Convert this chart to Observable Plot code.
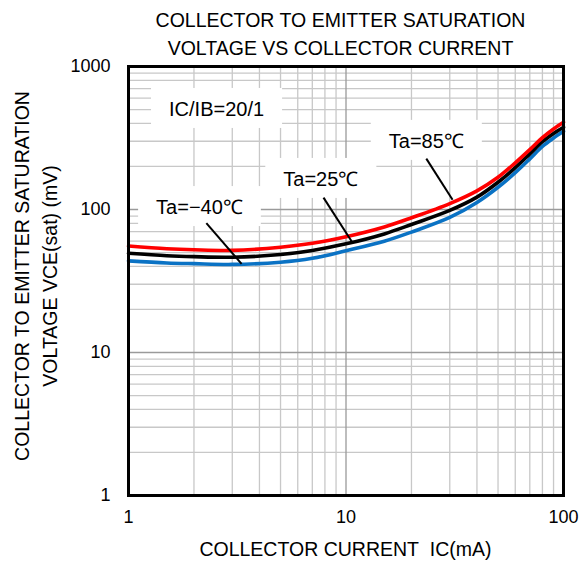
<!DOCTYPE html>
<html><head><meta charset="utf-8">
<script src="https://cdn.jsdelivr.net/npm/d3@7"></script>
<script src="https://cdn.jsdelivr.net/npm/@observablehq/plot@0.6"></script>
<style>body{margin:0;background:#fff} svg{display:block}</style>
</head><body><div id="chart"></div>
<script>
// Collector current IC (mA)
const current = [1, 1.5, 2, 3, 5, 7, 10, 15, 20, 30, 40, 50, 60, 70, 80, 90, 100];
// VCE(sat) (mV) per ambient temperature
const vce85  = [55.5, 53.2, 52.3, 51.8, 54.5, 58.0, 64.5, 75.5, 87.5, 110, 135, 168, 212, 262, 318, 366, 408];
const vce25  = [49.4, 47.5, 46.8, 46.4, 48.4, 51.7, 57.5, 67.5, 78.5, 98.5, 122, 155, 196, 245, 298, 340, 376];
const vceM40 = [43.7, 42.3, 41.8, 41.3, 42.8, 45.6, 51.5, 60.0, 69.5, 88.0, 112, 143, 181, 226, 276, 316, 352];

const xTicks = [1, 10, 100];
const yTicks = [1, 10, 100, 1000];
const xMinor = [2, 3, 4, 5, 6, 7, 8, 9, 20, 30, 40, 50, 60, 70, 80, 90];
const xDecade = [10];
const yMinor = [2, 3, 4, 5, 6, 7, 8, 9, 20, 30, 40, 50, 60, 70, 80, 90, 200, 300, 400, 500, 600, 700, 800, 900];
const yDecade = [10, 100];

const annotations = [
  {text: "IC/IB=20/1", x: 2.54, y: 500},
  {text: "Ta=85℃", x: 23.4, y: 299},
  {text: "Ta=25℃", x: 7.66, y: 162},
  {text: "Ta=−40℃", x: 2.12, y: 103}
];
const leaders = [
  {x1: 23.4, y1: 227, x2: 30.9, y2: 117},
  {x1: 7.88, y1: 121, x2: 10.7, y2: 58.8},
  {x1: 2.28, y1: 80.2, x2: 3.31, y2: 41.7}
];

const titleText = "COLLECTOR TO EMITTER SATURATION\nVOLTAGE VS COLLECTOR CURRENT";
const xLabel = "COLLECTOR CURRENT\u00a0 IC(mA)";
const yLabel = "COLLECTOR TO EMITTER SATURATION\nVOLTAGE VCE(sat) (mV)";

const toRows = vals => current.map((c, i) => ({x: c, y: vals[i]}));

const font = "'Liberation Sans', Arial, sans-serif";
const plot = Plot.plot({
  width: 582, height: 562,
  marginLeft: 128, marginRight: 19, marginTop: 66, marginBottom: 67,
  style: {fontFamily: font, fontSize: "18px", background: "white", color: "black"},
  x: {type: "log", domain: [1, 100], ticks: xTicks, tickSize: 0, tickPadding: 15, tickFormat: d => String(d), label: null},
  y: {type: "log", domain: [1, 1000], ticks: yTicks, tickSize: 0, tickPadding: 18, tickFormat: d => String(d), label: null},
  marks: [
    Plot.ruleX(xMinor, {x: d => d, stroke: "#c8c8c8", strokeWidth: 1.3}),
    Plot.ruleY(yMinor, {y: d => d, stroke: "#c8c8c8", strokeWidth: 1.3}),
    Plot.ruleX(xDecade, {x: d => d, stroke: "#9a9a9a", strokeWidth: 1.3}),
    Plot.ruleY(yDecade, {y: d => d, stroke: "#9a9a9a", strokeWidth: 1.3}),
    Plot.line(toRows(vceM40), {x: "x", y: "y", stroke: "#0a72c4", strokeWidth: 3.6, curve: "catmull-rom", ariaDescription: "curves"}),
    Plot.line(toRows(vce25), {x: "x", y: "y", stroke: "#000000", strokeWidth: 3.6, curve: "catmull-rom"}),
    Plot.line(toRows(vce85), {x: "x", y: "y", stroke: "#ff0000", strokeWidth: 3.6, curve: "catmull-rom"}),
    Plot.link(leaders, {x1: "x1", y1: "y1", x2: "x2", y2: "y2", stroke: "black", strokeWidth: 2}),
    Plot.text(annotations, {x: "x", y: "y", text: "text", fontSize: 20, fill: "black", ariaDescription: "annotation"}),
    Plot.frame({stroke: "black", strokeWidth: 3}),
    Plot.text([titleText], {text: d => d, frameAnchor: "top", textAnchor: "middle", dx: -5.5, dy: -34, fontSize: 19.5, lineHeight: 1.436, lineAnchor: "middle", fill: "black"}),
    Plot.text([xLabel], {text: d => d, frameAnchor: "bottom", textAnchor: "middle", dx: -0.5, dy: 54.5, fontSize: 19.5, lineAnchor: "middle", fill: "black"}),
    Plot.text([yLabel], {text: d => d, frameAnchor: "left", textAnchor: "middle", dx: -94.25, dy: -5, rotate: -90, fontSize: 19.5, lineHeight: 1.41, lineAnchor: "middle", fill: "black"})
  ]
});
document.getElementById("chart").appendChild(plot);

// white label boxes behind the annotations (covering the grid, under the curves)
const svg = plot.tagName.toLowerCase() === "svg" ? plot : plot.querySelector("svg");
const ns = "http://www.w3.org/2000/svg";
const annG = svg.querySelector('g[aria-description="annotation"]');
const curvesG = svg.querySelector('g[aria-description="curves"]');
const boxG = document.createElementNS(ns, "g");
const sr = svg.getBoundingClientRect();
if (annG) {
  for (const t of annG.querySelectorAll("text")) {
    const r = t.getBoundingClientRect();
    const rect = document.createElementNS(ns, "rect");
    rect.setAttribute("x", r.left - sr.left - 18);
    rect.setAttribute("y", r.top - sr.top - 10);
    rect.setAttribute("width", r.width + 36);
    rect.setAttribute("height", r.height + 18);
    rect.setAttribute("fill", "white");
    boxG.appendChild(rect);
  }
}
if (curvesG) svg.insertBefore(boxG, curvesG); else svg.appendChild(boxG);
</script>
</body></html>
